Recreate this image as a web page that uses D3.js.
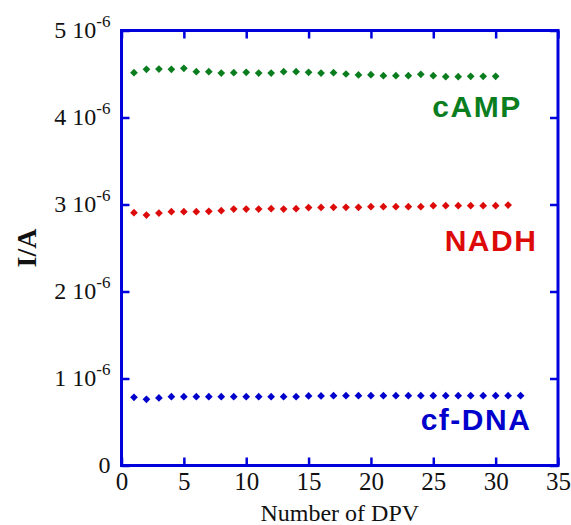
<!DOCTYPE html>
<html>
<head>
<meta charset="utf-8">
<script src="https://cdn.jsdelivr.net/npm/d3@7"></script>
<style>
  body { margin: 0; background: #fff; }
  svg { display: block; }
</style>
</head>
<body>
<div id="chart"></div>
<script>
var width = 571, height = 525;
var margin = {top: 30.5, right: 13, bottom: 59.5, left: 121.5};

// données
var dpv = d3.range(1, 33);
var camp = [4.515, 4.554, 4.557, 4.554, 4.566, 4.526, 4.526, 4.511, 4.515, 4.519,
            4.511, 4.511, 4.526, 4.526, 4.519, 4.511, 4.515, 4.500, 4.489, 4.492,
            4.480, 4.480, 4.480, 4.497, 4.480, 4.469, 4.469, 4.473, 4.473, 4.473];
var nadh = [2.906, 2.879, 2.902, 2.917, 2.917, 2.917, 2.922, 2.929, 2.948, 2.948,
            2.948, 2.952, 2.948, 2.952, 2.965, 2.966, 2.968, 2.968, 2.968, 2.975,
            2.975, 2.975, 2.975, 2.975, 2.986, 2.986, 2.986, 2.986, 2.986, 2.986, 2.994];
var cfdna = [0.784, 0.761, 0.776, 0.791, 0.791, 0.791, 0.791, 0.791, 0.791, 0.791,
             0.791, 0.791, 0.791, 0.791, 0.799, 0.799, 0.802, 0.802, 0.802, 0.802,
             0.802, 0.802, 0.802, 0.802, 0.802, 0.802, 0.802, 0.802, 0.802, 0.802, 0.802, 0.802];
var seriesNames = ["cAMP", "NADH", "cf-DNA"];
var xTicks = [0, 5, 10, 15, 20, 25, 30, 35];
var yTicks = [0, 1, 2, 3, 4, 5];   // en 10^-6 A

var series = [
  {name: seriesNames[0], values: camp, color: "#0a7d1e", labelX: 477, labelY: 117},
  {name: seriesNames[1], values: nadh, color: "#dd0a0a", labelX: 491, labelY: 251},
  {name: seriesNames[2], values: cfdna, color: "#0000cc", labelX: 476, labelY: 430}
];

var svg = d3.select("#chart").append("svg")
    .attr("width", width)
    .attr("height", height);

var x = d3.scaleLinear().domain([0, 35]).range([margin.left, width - margin.right]);
var y = d3.scaleLinear().domain([0, 5]).range([height - margin.bottom, margin.top]);

var frameColor = "#0000dd";
var serif = "'Liberation Serif', 'Times New Roman', serif";

// axe du bas avec étiquettes
var xAxis = svg.append("g")
    .attr("transform", "translate(0," + y(0) + ")")
    .call(d3.axisBottom(x).tickValues(xTicks).tickSize(-8).tickPadding(6).tickFormat(d3.format("d")));
// axe du haut (graduations seulement)
svg.append("g")
    .attr("transform", "translate(0," + y(5) + ")")
    .call(d3.axisTop(x).tickValues(xTicks).tickSize(-8).tickFormat(""));
// axes gauche et droite
svg.append("g")
    .attr("transform", "translate(" + x(0) + ",0)")
    .call(d3.axisLeft(y).tickValues(yTicks).tickSize(-8).tickFormat(""));
svg.append("g")
    .attr("transform", "translate(" + x(35) + ",0)")
    .call(d3.axisRight(y).tickValues(yTicks).tickSize(-8).tickFormat(""));

svg.selectAll(".domain").remove();
svg.selectAll(".tick line")
    .attr("stroke", frameColor)
    .attr("stroke-width", 2.5);

xAxis.selectAll(".tick text")
    .attr("fill", "#111")
    .style("font-family", serif)
    .style("font-size", "25px")
    .attr("dy", "0.75em");

// cadre
svg.append("rect")
    .attr("x", x(0))
    .attr("y", y(5))
    .attr("width", x(35) - x(0))
    .attr("height", y(0) - y(5))
    .attr("fill", "none")
    .attr("stroke", frameColor)
    .attr("stroke-width", 3);

// étiquettes de l'axe y avec exposant
var yLabels = svg.append("g")
    .style("font-family", serif)
    .attr("fill", "#111");

yTicks.forEach(function(v) {
    var t = yLabels.append("text")
        .attr("x", x(0) - 11)
        .attr("y", y(v) + 7)
        .attr("text-anchor", "end")
        .style("font-size", "24px");
    if (v === 0) {
        t.text("0");
    } else {
        t.append("tspan").text(v + " 10");
        t.append("tspan")
            .attr("dy", -11)
            .style("font-size", "17px")
            .text("-6");
    }
});

// titres des axes
svg.append("text")
    .attr("x", x(17.5))
    .attr("y", 521)
    .attr("text-anchor", "middle")
    .style("font-family", serif)
    .style("font-size", "24px")
    .attr("fill", "#111")
    .text("Number of DPV");

svg.append("text")
    .attr("transform", "translate(36," + y(2.5) + ") rotate(-90)")
    .attr("text-anchor", "middle")
    .style("font-family", serif)
    .style("font-size", "28px")
    .style("font-weight", "bold")
    .attr("fill", "#111")
    .text("I/A");

// points en losange
var diamond = d3.symbol().type(d3.symbolSquare).size(30);

series.forEach(function(s) {
    svg.append("g")
        .selectAll("path")
        .data(s.values)
        .enter()
        .append("path")
        .attr("d", diamond)
        .attr("transform", function(d, i) {
            return "translate(" + x(dpv[i]) + "," + y(d) + ") rotate(45)";
        })
        .attr("fill", s.color);

    svg.append("text")
        .attr("x", s.labelX)
        .attr("y", s.labelY)
        .attr("text-anchor", "middle")
        .style("font-family", "'Liberation Sans', Arial, sans-serif")
        .style("font-size", "30px")
        .style("font-weight", "bold")
        .style("letter-spacing", "1.5px")
        .attr("fill", s.color)
        .text(s.name);
});
</script>
</body>
</html>
